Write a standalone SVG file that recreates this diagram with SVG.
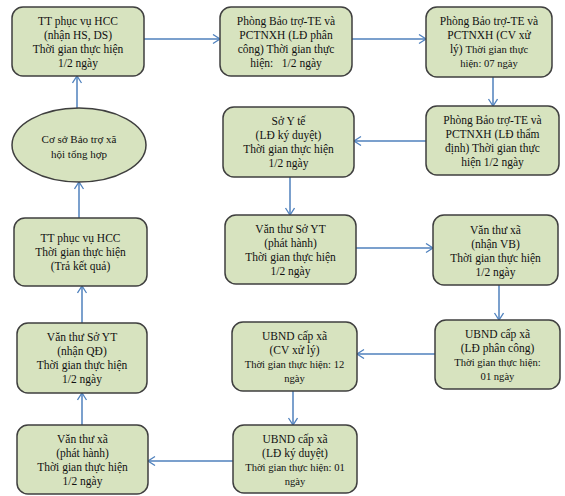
<svg xmlns="http://www.w3.org/2000/svg" width="565" height="496" viewBox="0 0 565 496">
<style>
.box{fill:#d7e3bf;stroke:#3f3f3f;stroke-width:1.5}
text{font-family:"Liberation Serif","Times New Roman",serif;font-size:11.5px;fill:#111;text-anchor:middle}
.s{font-size:10.6px}
.e{font-size:11px}
.c line{stroke:#4f81bd;stroke-width:1.5;marker-end:url(#ah)}
</style>
<defs>
<marker id="ah" markerUnits="userSpaceOnUse" markerWidth="12" markerHeight="12" refX="8" refY="5" orient="auto">
<path d="M1,0.5 L8,5 L1,9.5" fill="none" stroke="#4f81bd" stroke-width="1.3"/>
</marker>
</defs>
<rect width="565" height="496" fill="#fff"/>
<g class="c">
<line x1="144" y1="39" x2="220" y2="39"/>
<line x1="352" y1="39" x2="426" y2="39"/>
<line x1="493" y1="77" x2="493" y2="106"/>
<line x1="426" y1="141" x2="354" y2="141"/>
<line x1="290" y1="177" x2="290" y2="215"/>
<line x1="356" y1="248" x2="433" y2="248"/>
<line x1="499" y1="285" x2="499" y2="320"/>
<line x1="435" y1="354" x2="357" y2="354"/>
<line x1="293" y1="391" x2="293" y2="425"/>
<line x1="233" y1="461" x2="148" y2="461"/>
<line x1="82" y1="425" x2="82" y2="393"/>
<line x1="82" y1="323" x2="82" y2="286"/>
<line x1="79" y1="218" x2="79" y2="182"/>
<line x1="77" y1="108" x2="77" y2="76"/>
</g>
<g id="n1"><rect class="box" x="12" y="7" width="132" height="69" rx="11"/>
<text x="78" y="25">TT phục vụ HCC</text><text x="78" y="39">(nhận HS, DS)</text><text x="78" y="53">Thời gian thực hiện</text><text x="78" y="67">1/2 ngày</text></g>
<g id="n2"><rect class="box" x="220" y="7" width="132" height="69" rx="11"/>
<text x="286" y="25">Phòng Bảo trợ-TE và</text><text x="286" y="39">PCTNXH (LĐ phân</text><text x="286" y="53">công) Thời gian thực</text><text x="286" y="67" xml:space="preserve">hiện:   1/2 ngày</text></g>
<g id="n3"><rect class="box" x="426" y="7" width="126" height="70" rx="11"/>
<text x="489" y="25">Phòng Bảo trợ-TE và</text><text x="489" y="39">PCTNXH (CV xử</text><text x="489" y="53">lý) <tspan class="s">Thời gian thực</tspan></text><text class="s" x="489" y="67">hiện: 07 ngày</text></g>
<g id="n4"><rect class="box" x="426" y="106" width="133" height="69" rx="11"/>
<text x="492.5" y="124">Phòng Bảo trợ-TE và</text><text x="492.5" y="138">PCTNXH (LĐ thẩm</text><text x="492.5" y="152">định) Thời gian thực</text><text x="492.5" y="166">hiện 1/2 ngày</text></g>
<g id="n5"><rect class="box" x="223" y="107" width="131" height="70" rx="11"/>
<text x="288.5" y="125">Sở Y tế</text><text x="288.5" y="139">(LĐ ký duyệt)</text><text x="288.5" y="153">Thời gian thực hiện</text><text x="288.5" y="167">1/2 ngày</text></g>
<g id="n6"><rect class="box" x="225" y="215" width="131" height="69" rx="11"/>
<text x="290.5" y="233">Văn thư Sở YT</text><text x="290.5" y="247">(phát hành)</text><text x="290.5" y="261">Thời gian thực hiện</text><text x="290.5" y="275">1/2 ngày</text></g>
<g id="n7"><rect class="box" x="433" y="215" width="125" height="70" rx="11"/>
<text x="495.5" y="234">Văn thư xã</text><text x="495.5" y="248">(nhận VB)</text><text x="495.5" y="262">Thời gian thực hiện</text><text x="495.5" y="276">1/2 ngày</text></g>
<g id="n8"><rect class="box" x="435" y="320" width="125" height="69" rx="11"/>
<text x="497.5" y="338">UBND cấp xã</text><text x="497.5" y="352">(LĐ phân công)</text><text class="s" x="497.5" y="366">Thời gian thực hiện:</text><text class="s" x="497.5" y="380">01 ngày</text></g>
<g id="n9"><rect class="box" x="232" y="322" width="125" height="69" rx="11"/>
<text x="294.5" y="340">UBND cấp xã</text><text x="294.5" y="354">(CV xử lý)</text><text class="s" x="294.5" y="368">Thời gian thực hiện: 12</text><text class="s" x="294.5" y="382">ngày</text></g>
<g id="n10"><rect class="box" x="233" y="425" width="124" height="68" rx="11"/>
<text x="295" y="443">UBND cấp xã</text><text x="295" y="457">(LĐ ký duyệt)</text><text class="s" x="295" y="471">Thời gian thực hiện: 01</text><text class="s" x="295" y="485">ngày</text></g>
<g id="n11"><rect class="box" x="17" y="425" width="131" height="69" rx="11"/>
<text x="82.5" y="443">Văn thư xã</text><text x="82.5" y="457">(phát hành)</text><text x="82.5" y="471">Thời gian thực hiện</text><text x="82.5" y="485">1/2 ngày</text></g>
<g id="n12"><rect class="box" x="17" y="323" width="130" height="70" rx="11"/>
<text x="82" y="341">Văn thư Sở YT</text><text x="82" y="355">(nhận QĐ)</text><text x="82" y="369">Thời gian thực hiện</text><text x="82" y="383">1/2 ngày</text></g>
<g id="n13"><rect class="box" x="14" y="218" width="133" height="68" rx="11"/>
<text x="80.5" y="242">TT phục vụ HCC</text><text x="80.5" y="256">Thời gian thực hiện</text><text x="80.5" y="270">(Trả kết quả)</text></g>
<g id="n14"><ellipse class="box" cx="79" cy="145" rx="67" ry="37"/>
<text class="e" x="79" y="143">Cơ sở Bảo trợ xã</text><text class="e" x="79" y="158">hội tổng hợp</text></g>
</svg>
